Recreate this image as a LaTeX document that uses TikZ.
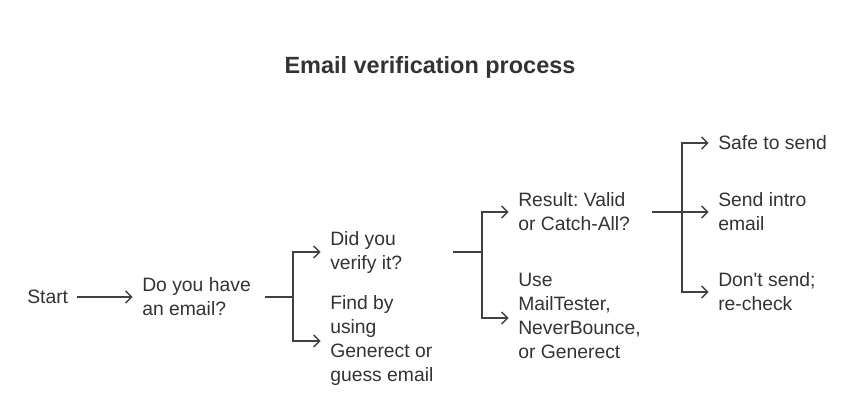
\documentclass[tikz,border=0pt]{standalone}
\usepackage{fontspec}
\setmainfont{Liberation Sans}
\usetikzlibrary{arrows.meta}
\frenchspacing
\begin{document}
\begin{tikzpicture}[x=0.75pt,y=-0.75pt,
  lbl/.style={anchor=west,align=left,inner sep=0pt,font=\fontsize{14.5pt}{18pt}\selectfont,text=black!80},
  conn/.style={draw=black!75,line width=1.1pt},
  arr/.style={conn,-{Straight Barb[length=4.5pt,width=9pt]}}]
\useasboundingbox (0,0) rectangle (860,412);
\node[font=\bfseries\fontsize{17.6pt}{20pt}\selectfont,text=black!80] (title) at (430,67) {Email verification process};
\node[lbl] (start) at (27,297) {Start};
\node[lbl] (q1) at (142,297) {Do you have\\an email?};
\node[lbl] (ver) at (330,252) {Did you\\verify it?};
\node[lbl] (find) at (330,340) {Find by\\using\\Generect or\\guess email};
\node[lbl] (res) at (518,212) {Result: Valid\\or Catch-All?};
\node[lbl] (use) at (518,316) {Use\\MailTester,\\NeverBounce,\\or Generect};
\node[lbl] (safe) at (718,143) {Safe to send};
\node[lbl] (intro) at (718,212) {Send intro\\email};
\node[lbl] (dont) at (718,292) {Don\textquotesingle t send;\\re-check};
\draw[arr] (77,297) -- ([xshift=-7pt]q1.west);
% bracket 1
\coordinate (b1) at (293,297);
\draw[conn] (265,297) -- (b1);
\draw[arr] (b1) |- ([xshift=-7pt]ver.west);
\draw[arr] (b1) |- ([xshift=-7pt]find.west |- 0,341);
% bracket 2
\coordinate (b2) at (482,252);
\draw[conn] (453,252) -- (b2);
\draw[arr] (b2) |- ([xshift=-7pt]res.west);
\draw[arr] (b2) |- ([xshift=-7pt]use.west |- 0,318);
% bracket 3
\coordinate (b3) at (682,212);
\draw[conn] (652,212) -- (b3);
\draw[arr] (b3) |- ([xshift=-7pt]safe.west);
\draw[arr] (b3) -- ([xshift=-7pt]intro.west);
\draw[arr] (b3) |- ([xshift=-7pt]dont.west);
\end{tikzpicture}
\end{document}
